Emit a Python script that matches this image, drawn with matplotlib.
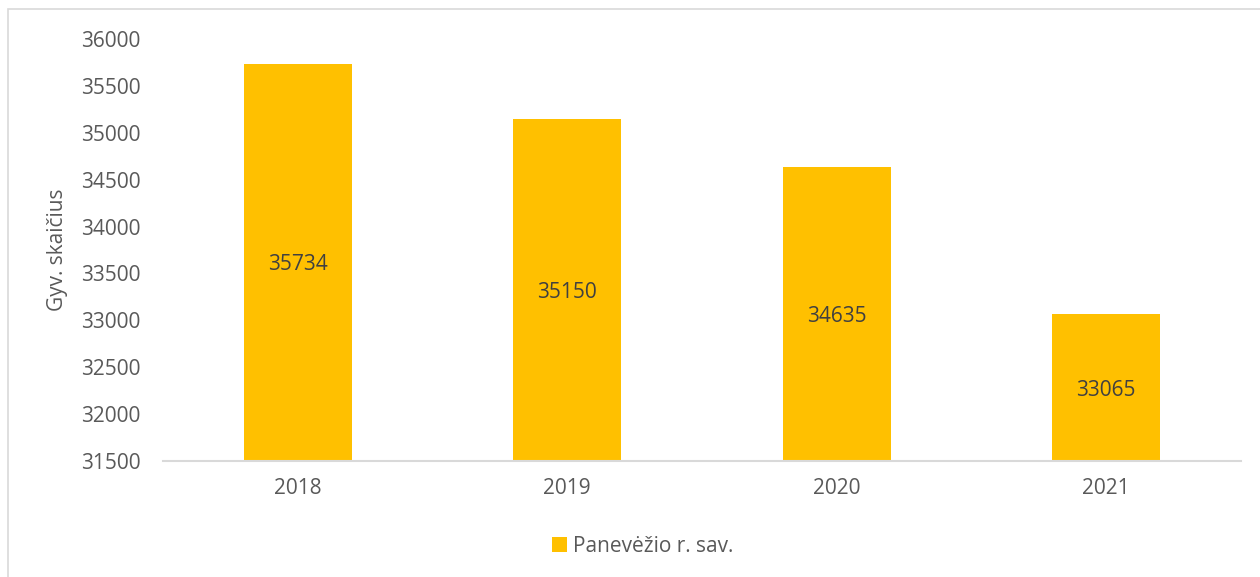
import matplotlib.pyplot as plt
from matplotlib.patches import Rectangle

# Data
years = ['2018', '2019', '2020', '2021']
population = [35734, 35150, 34635, 33065]
series_name = 'Panevėžio r. sav.'
y_label = 'Gyv. skaičius'

bar_color = '#FFC000'
text_color = '#595959'
W, H = 1260, 577

plt.rcParams['font.family'] = ['Open Sans', 'DejaVu Sans']

fig = plt.figure(figsize=(W / 100, H / 100), dpi=100)

# light chart border (left and top visible)
fig.patches.append(Rectangle((8 / W, -0.1), 1.2, (H - 9) / H + 0.1,
                             transform=fig.transFigure, fill=False,
                             edgecolor='#d9d9d9', lw=1.2))

# axes placed in pixel coordinates
left, right, top, bottom = 163, 1241, 39, 461
ax = fig.add_axes([left / W, 1 - bottom / H, (right - left) / W, (bottom - top) / H])

x = range(len(years))
bars = ax.bar(x, population, width=0.4, color=bar_color, zorder=2)
for xi, v in zip(x, population):
    ax.text(xi, (31500 + v) / 2, str(v), ha='center', va='center_baseline',
            fontsize=15, color='#404040')

ax.set_ylim(31500, 36000)
ax.set_xlim(-0.5, 3.5)
ax.set_yticks(range(31500, 36001, 500))
ax.set_xticks(list(x))
ax.set_xticklabels(years)
ax.tick_params(axis='both', length=0, labelsize=15, labelcolor=text_color)
ax.tick_params(axis='y', pad=16)
ax.tick_params(axis='x', pad=12)
for s in ['top', 'right', 'left']:
    ax.spines[s].set_visible(False)
ax.spines['bottom'].set_color('#d9d9d9')
ax.spines['bottom'].set_linewidth(1.5)

fig.text(58 / W, 1 - 250 / H, y_label, rotation=90, ha='center', va='center',
         fontsize=15, color=text_color)

# legend
ax.legend([bars], [series_name], loc='center',
          bbox_to_anchor=((643 - left) / (right - left), -(546 - bottom) / (bottom - top)),
          frameon=False, fontsize=15, labelcolor=text_color,
          handlelength=0.7, handleheight=0.7, handletextpad=0.3)

fig.savefig('out.png', dpi=100)
